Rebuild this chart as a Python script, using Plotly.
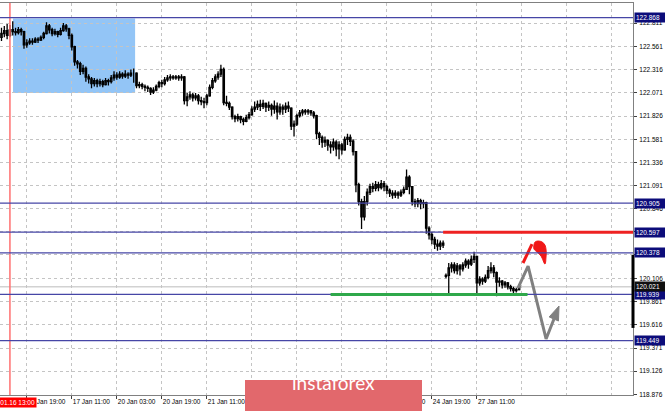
import plotly.graph_objects as go

# ---------------- data (H1 candles, bar index 0 = 16 Jan 10:00) ----------------
bar_open = [
    122.66, 122.70, 122.73, 122.68, 122.74, 122.72, 122.71, 122.74, 122.72, 122.58,
    122.60, 122.62, 122.61, 122.64, 122.63, 122.66, 122.70, 122.78, 122.74, 122.70,
    122.72, 122.69, 122.73, 122.78, 122.75, 122.68, 122.56, 122.40, 122.38, 122.30,
    122.33, 122.24, 122.22, 122.17, 122.20, 122.17, 122.19, 122.16, 122.20, 122.19,
    122.23, 122.26, 122.24, 122.27, 122.25, 122.27, 122.26, 122.28, 122.28, 122.15,
    122.16, 122.14, 122.13, 122.12, 122.08, 122.10, 122.14, 122.18, 122.17, 122.21,
    122.23, 122.24, 122.23, 122.24, 122.23, 122.24, 121.99, 122.03, 122.05, 122.02,
    122.04, 121.99, 121.98, 121.97, 122.04, 122.13, 122.20, 122.24, 122.27, 122.32,
    121.97, 121.96, 121.92, 121.82, 121.80, 121.82, 121.79, 121.77, 121.81, 121.84,
    121.90, 121.92, 121.95, 121.93, 121.96, 121.92, 121.94, 121.90, 121.93, 121.87,
    121.92, 121.90, 121.93, 121.91, 121.72, 121.74, 121.83, 121.86, 121.88, 121.87,
    121.88, 121.86, 121.83, 121.64, 121.60, 121.55, 121.57, 121.52, 121.50, 121.55,
    121.48, 121.52, 121.47, 121.58, 121.60, 121.56, 121.45, 121.10, 120.92, 120.76,
    120.92, 121.02, 121.08, 121.06, 121.10, 121.07, 121.11, 121.08, 121.04, 121.01,
    120.99, 121.01, 120.99, 121.02, 121.05, 121.18, 121.08, 120.92, 120.90, 120.93,
    120.90, 120.91, 120.64, 120.57, 120.52, 120.47, 120.45, 120.48, 120.13, 120.14,
    120.22, 120.25, 120.19, 120.24, 120.21, 120.25, 120.29, 120.26, 120.31, 120.34,
    120.06, 120.10, 120.08, 120.12, 120.19, 120.22, 120.17, 120.07, 120.08, 120.04,
    120.06, 120.02, 120.00, 119.98, 119.99,
]
bar_high = [
    122.76, 122.78, 122.80, 122.79, 122.83, 122.76, 122.77, 122.76, 122.73, 122.64,
    122.65, 122.65, 122.66, 122.66, 122.68, 122.72, 122.82, 122.80, 122.76, 122.75,
    122.73, 122.76, 122.81, 122.80, 122.76, 122.70, 122.57, 122.42, 122.40, 122.37,
    122.35, 122.27, 122.24, 122.23, 122.22, 122.22, 122.21, 122.23, 122.22, 122.26,
    122.30, 122.29, 122.30, 122.29, 122.31, 122.29, 122.32, 122.33, 122.29, 122.19,
    122.18, 122.16, 122.15, 122.13, 122.13, 122.16, 122.20, 122.21, 122.24, 122.26,
    122.27, 122.26, 122.26, 122.26, 122.27, 122.25, 122.07, 122.09, 122.07, 122.07,
    122.06, 122.03, 122.02, 122.06, 122.16, 122.23, 122.27, 122.30, 122.37, 122.34,
    122.04, 121.98, 121.93, 121.84, 121.85, 121.83, 121.81, 121.84, 121.87, 121.93,
    121.98, 121.99, 122.00, 122.00, 121.97, 121.98, 121.96, 121.99, 121.97, 121.96,
    121.95, 121.97, 121.98, 121.92, 121.78, 121.85, 121.89, 121.90, 121.90, 121.90,
    121.89, 121.88, 121.84, 121.66, 121.62, 121.61, 121.58, 121.56, 121.59, 121.57,
    121.56, 121.54, 121.61, 121.64, 121.63, 121.58, 121.45, 121.12, 120.95, 120.98,
    121.06, 121.11, 121.12, 121.14, 121.13, 121.15, 121.14, 121.10, 121.06, 121.04,
    121.04, 121.03, 121.05, 121.08, 121.26, 121.20, 121.08, 120.95, 120.96, 120.95,
    120.94, 120.92, 120.66, 120.60, 120.55, 120.52, 120.51, 120.51, 120.16, 120.27,
    120.28, 120.28, 120.27, 120.26, 120.28, 120.32, 120.31, 120.35, 120.39, 120.34,
    120.13, 120.12, 120.15, 120.24, 120.28, 120.25, 120.18, 120.12, 120.09, 120.08,
    120.07, 120.04, 120.02, 120.01, 120.05,
]
bar_low = [
    122.62, 122.66, 122.64, 122.66, 122.68, 122.68, 122.69, 122.68, 122.54, 122.55,
    122.58, 122.58, 122.60, 122.60, 122.62, 122.64, 122.69, 122.70, 122.67, 122.68,
    122.66, 122.68, 122.72, 122.72, 122.64, 122.52, 122.36, 122.33, 122.26, 122.27,
    122.19, 122.17, 122.12, 122.14, 122.13, 122.14, 122.13, 122.15, 122.15, 122.17,
    122.20, 122.21, 122.22, 122.22, 122.23, 122.22, 122.24, 122.18, 122.12, 122.12,
    122.11, 122.09, 122.08, 122.05, 122.06, 122.09, 122.12, 122.13, 122.15, 122.19,
    122.20, 122.21, 122.21, 122.20, 122.20, 121.95, 121.93, 122.00, 121.98, 121.99,
    121.95, 121.94, 121.91, 121.94, 122.03, 122.11, 122.18, 122.21, 122.24, 121.94,
    121.93, 121.89, 121.79, 121.76, 121.77, 121.75, 121.73, 121.76, 121.79, 121.83,
    121.87, 121.89, 121.88, 121.90, 121.87, 121.88, 121.83, 121.85, 121.79, 121.84,
    121.84, 121.86, 121.87, 121.68, 121.61, 121.72, 121.81, 121.83, 121.84, 121.84,
    121.83, 121.80, 121.58, 121.52, 121.49, 121.50, 121.46, 121.43, 121.46, 121.40,
    121.37, 121.42, 121.46, 121.52, 121.51, 121.41, 121.02, 120.88, 120.63, 120.72,
    120.88, 120.99, 121.02, 121.03, 121.03, 121.05, 121.03, 121.00, 120.97, 120.95,
    120.96, 120.95, 120.97, 121.00, 121.05, 121.00, 120.88, 120.86, 120.86, 120.84,
    120.85, 120.58, 120.52, 120.47, 120.42, 120.40, 120.41, 120.43, 120.11, 119.95,
    120.17, 120.16, 120.15, 120.14, 120.18, 120.22, 120.21, 120.24, 120.27, 119.95,
    120.03, 120.04, 120.06, 120.10, 120.16, 120.12, 119.92, 120.02, 120.00, 120.01,
    119.99, 119.97, 119.95, 119.96, 119.98,
]
bar_close = [
    122.70, 122.73, 122.68, 122.74, 122.72, 122.71, 122.74, 122.72, 122.58, 122.60,
    122.62, 122.61, 122.64, 122.63, 122.66, 122.70, 122.78, 122.74, 122.70, 122.72,
    122.69, 122.73, 122.78, 122.75, 122.68, 122.56, 122.40, 122.38, 122.30, 122.33,
    122.24, 122.22, 122.17, 122.20, 122.17, 122.19, 122.16, 122.20, 122.19, 122.23,
    122.26, 122.24, 122.27, 122.25, 122.27, 122.26, 122.28, 122.28, 122.15, 122.16,
    122.14, 122.13, 122.12, 122.08, 122.10, 122.14, 122.18, 122.17, 122.21, 122.23,
    122.24, 122.23, 122.24, 122.23, 122.24, 121.99, 122.03, 122.05, 122.02, 122.04,
    121.99, 121.98, 121.97, 122.04, 122.13, 122.20, 122.24, 122.27, 122.32, 121.97,
    121.96, 121.92, 121.82, 121.80, 121.82, 121.79, 121.77, 121.81, 121.84, 121.90,
    121.92, 121.95, 121.93, 121.96, 121.92, 121.94, 121.90, 121.93, 121.87, 121.92,
    121.90, 121.93, 121.91, 121.72, 121.74, 121.83, 121.86, 121.88, 121.87, 121.88,
    121.86, 121.83, 121.64, 121.60, 121.55, 121.57, 121.52, 121.50, 121.55, 121.48,
    121.52, 121.47, 121.58, 121.60, 121.56, 121.45, 121.10, 120.92, 120.76, 120.92,
    121.02, 121.08, 121.06, 121.10, 121.07, 121.11, 121.08, 121.04, 121.01, 120.99,
    121.01, 120.99, 121.02, 121.05, 121.18, 121.08, 120.92, 120.90, 120.93, 120.90,
    120.91, 120.64, 120.57, 120.52, 120.47, 120.45, 120.48, 120.46, 120.14, 120.22,
    120.25, 120.19, 120.24, 120.21, 120.25, 120.29, 120.26, 120.31, 120.34, 120.06,
    120.10, 120.08, 120.12, 120.19, 120.22, 120.17, 120.07, 120.08, 120.04, 120.06,
    120.02, 120.00, 119.98, 119.99, 120.021,
]
bar_index = list(range(len(bar_close)))

x_tick_bars = [9, 25, 41, 57, 73, 89, 105, 121, 137, 153, 169]
x_tick_labels = ["16 Jan 19:00", "17 Jan 11:00", "20 Jan 03:00", "20 Jan 19:00",
                 "21 Jan 11:00", "22 Jan 03:00", "22 Jan 19:00", "23 Jan 11:00",
                 "24 Jan 03:00", "24 Jan 19:00", "27 Jan 11:00"]
x_grid_first_bar = 9
x_grid_step_bars = 16

y_tick_values = [122.811, 122.561, 122.316, 122.071, 121.826, 121.581, 121.336,
                 121.091, 120.846, 120.601, 120.356, 120.106, 119.861, 119.616,
                 119.371, 119.126, 118.876]
y_tick_labels = ["%.3f" % v for v in y_tick_values]

level_prices = [122.868, 120.905, 120.597, 120.378, 119.939, 119.449]
bid_price = 120.021
resistance_price = 120.597
resistance_start_bar = 157
support_price = 119.939
support_bars = [117, 187]
zone_bars = [4.1, 47.5]
zone_prices = [122.07, 122.86]
marker_bar = 3
marker_label = "2020.01.16 13:00"
spread_bar_prices = [120.356, 119.584]

red_stroke_bars = [185.4, 188.6]
red_stroke_prices = [120.271, 120.472]
red_head_bars = [190.8, 192.2, 193.2, 193.6, 193.6, 193.2, 191.8, 190.4, 189.3, 189.3, 189.7, 190.8]
red_head_prices = [120.504, 120.493, 120.461, 120.408, 120.345, 120.26, 120.345, 120.387,
                   120.419, 120.461, 120.493, 120.504]
gray_path_bars = [183.6, 187.2, 193.6, 196.4]
gray_path_prices = [120.006, 120.239, 119.467, 119.678]
gray_head_bars = [198.2, 194.7, 198.0, 198.2]
gray_head_prices = [119.816, 119.700, 119.657, 119.816]

# ---------------- figure ----------------
X_RANGE = [-0.53, 224.5]
Y_RANGE = [118.874, 123.023]
FONT = "Liberation Sans"
GRID = "#c4c4c4"
LEVEL_BLUE = "#4646a6"
LABEL_NAVY = "#0c0c7a"

fig = go.Figure()

fig.add_trace(go.Candlestick(
    x=bar_index, open=bar_open, high=bar_high, low=bar_low, close=bar_close,
    increasing=dict(line=dict(color="black", width=1.3), fillcolor="white"),
    decreasing=dict(line=dict(color="black", width=1.3), fillcolor="black"),
    whiskerwidth=0, showlegend=False, hoverinfo="skip",
))

# arrows
fig.add_trace(go.Scatter(x=red_stroke_bars, y=red_stroke_prices, mode="lines",
                         line=dict(color="#f01818", width=3), showlegend=False, hoverinfo="skip"))
fig.add_trace(go.Scatter(x=red_head_bars, y=red_head_prices, mode="lines", fill="toself",
                         fillcolor="#f01818", line=dict(color="#f01818", width=1, shape="spline"),
                         showlegend=False, hoverinfo="skip"))
fig.add_trace(go.Scatter(x=gray_path_bars, y=gray_path_prices, mode="lines",
                         line=dict(color="#808080", width=3), showlegend=False, hoverinfo="skip"))
fig.add_trace(go.Scatter(x=gray_head_bars, y=gray_head_prices, mode="lines", fill="toself",
                         fillcolor="#808080", line=dict(color="#808080", width=1),
                         showlegend=False, hoverinfo="skip"))

shapes = []
shapes.append(dict(type="rect", xref="x", yref="y", x0=zone_bars[0], x1=zone_bars[1],
                   y0=zone_prices[0], y1=zone_prices[1], fillcolor="#93c5f6",
                   line=dict(width=0), layer="below"))
shapes.append(dict(type="line", xref="x", yref="paper", x0=marker_bar, x1=marker_bar,
                   y0=0, y1=1, line=dict(color="#ff7070", width=1.5), layer="above"))
shapes.append(dict(type="line", xref="paper", yref="y", x0=0, x1=1, y0=bid_price, y1=bid_price,
                   line=dict(color="#d2d2d2", width=1.5), layer="below"))
for p in level_prices:
    shapes.append(dict(type="line", xref="paper", yref="y", x0=0, x1=1, y0=p, y1=p,
                       line=dict(color=LEVEL_BLUE, width=1.2), layer="above"))
shapes.append(dict(type="line", xref="x", yref="y", x0=resistance_start_bar, x1=X_RANGE[1],
                   y0=resistance_price, y1=resistance_price,
                   line=dict(color="#ee2222", width=3), layer="above"))
shapes.append(dict(type="line", xref="x", yref="y", x0=support_bars[0], x1=support_bars[1],
                   y0=support_price, y1=support_price,
                   line=dict(color="#2ea84a", width=3), layer="above"))
shapes.append(dict(type="line", xref="paper", yref="y", x0=1, x1=1,
                   y0=spread_bar_prices[0], y1=spread_bar_prices[1],
                   line=dict(color="black", width=3), layer="above"))
shapes.append(dict(type="rect", xref="paper", yref="paper",
                   x0=245 / 633, x1=422 / 633, y0=(395 - 412) / 392, y1=(395 - 380) / 392,
                   fillcolor="#e2686c", line=dict(width=0), layer="above"))
fig.update_layout(shapes=shapes)

annotations = []
for p in level_prices:
    annotations.append(dict(xref="paper", yref="y", x=1, y=p, xanchor="left", xshift=1,
                            text="%.3f" % p, showarrow=False, bgcolor=LABEL_NAVY,
                            font=dict(family=FONT, size=6.5, color="white"),
                            borderpad=1, width=28, align="left"))
annotations.append(dict(xref="paper", yref="y", x=1, y=bid_price, xanchor="left", xshift=1,
                        text="%.3f" % bid_price, showarrow=False, bgcolor="#101010",
                        font=dict(family=FONT, size=6.5, color="white"),
                        borderpad=1, width=28, align="left"))
annotations.append(dict(xref="x", yref="paper", x=marker_bar, y=0, yanchor="top", yshift=-2,
                        text=marker_label, showarrow=False, bgcolor="#ff0000",
                        font=dict(family=FONT, size=6.5, color="white"), borderpad=1))
annotations.append(dict(xref="paper", yref="paper", x=333.5 / 633, y=(395 - 396) / 392,
                        text="instaforex", showarrow=False,
                        font=dict(family="Lato", size=19, color="white")))
fig.update_layout(annotations=annotations)

fig.update_layout(
    width=665, height=411,
    margin=dict(l=0, r=32, t=3, b=16, autoexpand=False),
    paper_bgcolor="white", plot_bgcolor="white",
    font=dict(family=FONT, size=6.5, color="black"),
    showlegend=False,
    xaxis=dict(
        range=X_RANGE, rangeslider=dict(visible=False), automargin=False,
        tickmode="array", tickvals=x_tick_bars, ticktext=x_tick_labels,
        ticks="outside", ticklen=3, tickcolor="#404040", tickangle=0,
        ticklabelposition="outside right",
        showgrid=True, gridcolor=GRID, griddash="dot", gridwidth=1,
        minor=dict(tickmode="linear", tick0=x_grid_first_bar, dtick=x_grid_step_bars,
                   showgrid=True, gridcolor=GRID, griddash="dot", gridwidth=1, ticks=""),
        showline=True, linecolor="#808080", linewidth=1, mirror=True,
        zeroline=False, tickfont=dict(family=FONT, size=6.5, color="black"),
    ),
    yaxis=dict(
        range=Y_RANGE, side="right", automargin=False,
        tickmode="array", tickvals=y_tick_values, ticktext=y_tick_labels,
        ticks="outside", ticklen=3, tickcolor="#404040",
        showgrid=True, gridcolor=GRID, griddash="dot", gridwidth=1,
        showline=True, linecolor="#808080", linewidth=1, mirror=True,
        zeroline=False, tickfont=dict(family=FONT, size=6.5, color="black"),
        ticklabelstandoff=1,
    ),
)

fig.write_html("out.html", config={"displayModeBar": False, "staticPlot": True},
               post_script="document.body.style.margin='0';document.body.style.overflow='hidden';")
